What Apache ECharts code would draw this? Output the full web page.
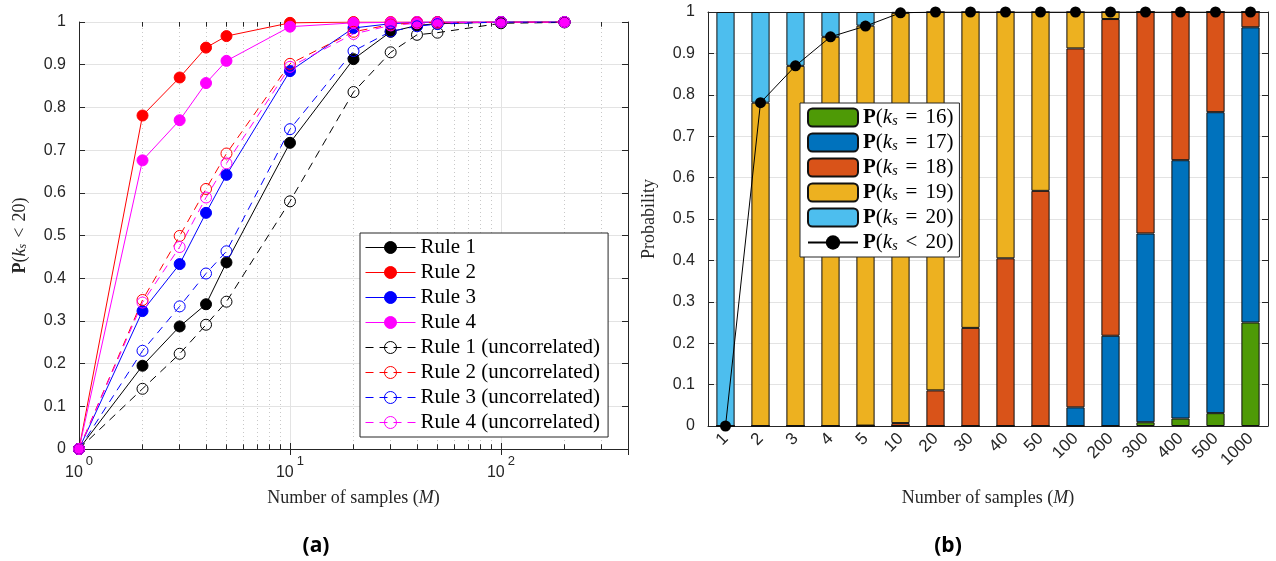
<!DOCTYPE html>
<html><head><meta charset="utf-8">
<script src="https://cdn.jsdelivr.net/npm/echarts@6/dist/echarts.min.js"></script>
<style>html,body{margin:0;padding:0;background:#fff}#c{width:1276px;height:561px}</style>
</head><body><div id="c"></div>
<script>
// ---------- Panel (a) data ----------
const samplesA = [1, 2, 3, 4, 5, 10, 20, 30, 40, 50, 100, 200];
const rule1 = [0, 0.195, 0.287, 0.339, 0.437, 0.717, 0.913, 0.977, 0.992, 0.996, 1.0, 1.0];
const rule2 = [0, 0.781, 0.870, 0.940, 0.967, 0.998, 1.0, 1.0, 1.0, 1.0, 1.0, 1.0];
const rule3 = [0, 0.323, 0.433, 0.553, 0.642, 0.885, 0.986, 0.996, 0.999, 1.0, 1.0, 1.0];
const rule4 = [0, 0.676, 0.770, 0.857, 0.909, 0.989, 0.998, 0.999, 1.0, 1.0, 1.0, 1.0];
const rule1u = [0, 0.141, 0.223, 0.291, 0.345, 0.580, 0.836, 0.929, 0.970, 0.975, 0.997, 0.999];
const rule2u = [0, 0.349, 0.499, 0.609, 0.692, 0.902, 0.977, 0.994, 0.998, 0.999, 1.0, 1.0];
const rule3u = [0, 0.230, 0.334, 0.411, 0.463, 0.749, 0.932, 0.978, 0.990, 0.995, 1.0, 1.0];
const rule4u = [0, 0.343, 0.473, 0.589, 0.669, 0.895, 0.972, 0.992, 0.997, 0.998, 1.0, 1.0];
const minorTicksA = [2, 3, 4, 5, 6, 7, 8, 9, 20, 30, 40, 50, 60, 70, 80, 90, 200, 300];

// ---------- Panel (b) data ----------
const samplesB = ['1', '2', '3', '4', '5', '10', '20', '30', '40', '50', '100', '200', '300', '400', '500', '1000'];
const pK16 = [0, 0, 0, 0, 0, 0, 0, 0, 0, 0, 0, 0, 0.009, 0.018, 0.031, 0.250];
const pK17 = [0, 0, 0, 0, 0, 0, 0, 0, 0, 0, 0.045, 0.218, 0.456, 0.624, 0.727, 0.713];
const pK18 = [0, 0, 0, 0, 0.001, 0.007, 0.086, 0.237, 0.405, 0.568, 0.867, 0.765, 0.535, 0.358, 0.242, 0.037];
const pK19 = [0, 0.781, 0.870, 0.940, 0.966, 0.991, 0.914, 0.763, 0.595, 0.432, 0.088, 0.017, 0, 0, 0, 0];
const pK20 = [1, 0.219, 0.130, 0.060, 0.033, 0.002, 0, 0, 0, 0, 0, 0, 0, 0, 0, 0];
const pLess20 = [0, 0.781, 0.870, 0.940, 0.966, 0.998, 1, 1, 1, 1, 1, 1, 1, 1, 1, 1];

const SERIF = 'Liberation Serif';
const SANS = 'Liberation Sans';
const AX = '#262626';
const GRID = '#e3e3e3';

const rulesA = [
  { name: 'Rule 1', vals: rule1, color: '#000000', hollow: false },
  { name: 'Rule 2', vals: rule2, color: '#ff0000', hollow: false },
  { name: 'Rule 3', vals: rule3, color: '#0000ff', hollow: false },
  { name: 'Rule 4', vals: rule4, color: '#ff00ff', hollow: false },
  { name: 'Rule 1 (uncorrelated)', vals: rule1u, color: '#000000', hollow: true },
  { name: 'Rule 2 (uncorrelated)', vals: rule2u, color: '#ff0000', hollow: true },
  { name: 'Rule 3 (uncorrelated)', vals: rule3u, color: '#0000ff', hollow: true },
  { name: 'Rule 4 (uncorrelated)', vals: rule4u, color: '#ff00ff', hollow: true }
];
function itemStyleOf(r) {
  return r.hollow ? { color: 'rgba(255,255,255,0)', borderColor: r.color, borderWidth: 1 }
                  : { color: r.color, borderColor: r.color, borderWidth: 1 };
}
function lineStyleOf(r) {
  return { color: r.color, width: 1, type: r.hollow ? [8, 6] : 'solid' };
}
function lineSeries(r) {
  return {
    name: r.name, type: 'line', xAxisIndex: 0, yAxisIndex: 0,
    data: samplesA.map((x, i) => [x, r.vals[i]]),
    symbol: 'circle', symbolSize: 11, showSymbol: true, showAllSymbol: true,
    lineStyle: lineStyleOf(r), itemStyle: itemStyleOf(r),
    emphasis: { disabled: true }, animation: false, z: 3
  };
}
function barSeries(name, vals, color) {
  return {
    name: name, type: 'bar', xAxisIndex: 2, yAxisIndex: 2, stack: 'p', data: vals,
    barWidth: '52%', itemStyle: { color: color, borderColor: '#111', borderWidth: 1 },
    emphasis: { disabled: true }, animation: false
  };
}

const minorMarks = [];
minorTicksA.forEach(v => {
  minorMarks.push({ xAxis: v, lineStyle: { type: [1, 3], color: '#c8c8c8', width: 1 } });
});
minorTicksA.forEach(v => {
  minorMarks.push([{ coord: [v, 0] }, { coord: [v, 0.011], lineStyle: { type: 'solid', color: AX, width: 1 } }]);
  minorMarks.push([{ coord: [v, 1] }, { coord: [v, 0.989], lineStyle: { type: 'solid', color: AX, width: 1 } }]);
});

const legendBMap = {
  'P16': '{b|P}{n|(}{i|k}{s|s}{e|=}{n|16)}',
  'P17': '{b|P}{n|(}{i|k}{s|s}{e|=}{n|17)}',
  'P18': '{b|P}{n|(}{i|k}{s|s}{e|=}{n|18)}',
  'P19': '{b|P}{n|(}{i|k}{s|s}{e|=}{n|19)}',
  'P20': '{b|P}{n|(}{i|k}{s|s}{e|=}{n|20)}',
  'Pless': '{b|P}{n|(}{i|k}{s|s}{e|<}{n|20)}'
};
const richMath = {
  b: { fontFamily: SERIF, fontWeight: 'bold', fontSize: 21, color: '#000' },
  n: { fontFamily: SERIF, fontSize: 21, color: '#000' },
  e: { fontFamily: SERIF, fontSize: 21, color: '#000', padding: [0, 8, 0, 8] },
  i: { fontFamily: SERIF, fontStyle: 'italic', fontSize: 21, color: '#000' },
  s: { fontFamily: SERIF, fontStyle: 'italic', fontSize: 14, color: '#000', verticalAlign: 'bottom', padding: [6, 0, 0, 0] }
};
const richName = {
  b: { fontFamily: SERIF, fontWeight: 'bold', fontSize: 18, color: AX },
  n: { fontFamily: SERIF, fontSize: 18, color: AX },
  e: { fontFamily: SERIF, fontSize: 18, color: AX, padding: [0, 6, 0, 6] },
  i: { fontFamily: SERIF, fontStyle: 'italic', fontSize: 18, color: AX },
  s: { fontFamily: SERIF, fontStyle: 'italic', fontSize: 12, color: AX, verticalAlign: 'bottom', padding: [6, 0, 0, 0] }
};

const option = {
  backgroundColor: '#fff',
  animation: false,
  grid: [
    { left: 79, top: 22, width: 549, height: 427 },
    { left: 708, top: 12, width: 560, height: 414 }
  ],
  xAxis: [
    { type: 'log', logBase: 10, min: 1, max: 400, gridIndex: 0, position: 'bottom',
      axisLine: { show: true, lineStyle: { color: AX, width: 1 } },
      axisTick: { show: true, inside: true, length: 6, lineStyle: { color: AX } },
      splitLine: { show: true, lineStyle: { color: GRID, width: 1 } },
      axisLabel: { margin: 6, color: AX, showMaxLabel: false,
        formatter: v => '{a|10}{p|' + Math.round(Math.log10(v)) + '}',
        rich: { a: { fontFamily: SANS, fontSize: 16, color: AX, verticalAlign: 'bottom', lineHeight: 26 },
                p: { fontFamily: SANS, fontSize: 13, color: AX, verticalAlign: 'top', lineHeight: 10, padding: [0, 0, 0, 3] } } },
      name: '{n|Number of samples (}{i|M}{n|)}', nameLocation: 'middle', nameGap: 40,
      nameTextStyle: { rich: richName }
    },
    { type: 'log', logBase: 10, min: 1, max: 400, gridIndex: 0, position: 'top',
      axisLine: { show: true, lineStyle: { color: AX, width: 1 } },
      axisTick: { show: true, inside: true, length: 6, lineStyle: { color: AX } },
      splitLine: { show: false }, axisLabel: { show: false } },
    { type: 'category', data: samplesB, gridIndex: 1, position: 'bottom',
      axisLine: { show: true, onZero: false, lineStyle: { color: AX, width: 1 } },
      axisTick: { show: false },
      splitLine: { show: false },
      axisLabel: { rotate: 45, margin: 10, fontFamily: SANS, fontSize: 17, color: AX, interval: 0 },
      name: '{n|Number of samples (}{i|M}{n|)}', nameLocation: 'middle', nameGap: 63,
      nameTextStyle: { rich: richName }
    },
    { type: 'category', data: samplesB, gridIndex: 1, position: 'top',
      axisLine: { show: true, onZero: false, lineStyle: { color: AX, width: 1 } },
      axisTick: { show: false }, splitLine: { show: false }, axisLabel: { show: false } }
  ],
  yAxis: [
    { type: 'value', min: 0, max: 1, interval: 0.1, gridIndex: 0, position: 'left',
      axisLine: { show: true, lineStyle: { color: AX, width: 1 } },
      axisTick: { show: true, inside: true, length: 6, lineStyle: { color: AX } },
      splitLine: { show: true, lineStyle: { color: GRID, width: 1 } },
      axisLabel: { margin: 13, fontFamily: SANS, fontSize: 16, color: AX },
      name: '{b|P}{n|(}{i|k}{s|s}{e|<}{n|20)}', nameLocation: 'middle', nameGap: 50,
      nameTextStyle: { rich: richName }
    },
    { type: 'value', min: 0, max: 1, interval: 0.1, gridIndex: 0, position: 'right',
      axisLine: { show: true, lineStyle: { color: AX, width: 1 } },
      axisTick: { show: true, inside: true, length: 6, lineStyle: { color: AX } },
      splitLine: { show: false }, axisLabel: { show: false } },
    { type: 'value', min: 0, max: 1, interval: 0.1, gridIndex: 1, position: 'left',
      axisLine: { show: true, lineStyle: { color: AX, width: 1 } },
      axisTick: { show: true, inside: true, length: 6, lineStyle: { color: AX } },
      splitLine: { show: true, lineStyle: { color: GRID, width: 1 } },
      axisLabel: { margin: 13, fontFamily: SANS, fontSize: 16, color: AX },
      name: 'Probability', nameLocation: 'middle', nameGap: 50,
      nameTextStyle: { fontFamily: SERIF, fontSize: 18, color: AX }
    },
    { type: 'value', min: 0, max: 1, interval: 0.1, gridIndex: 1, position: 'right',
      axisLine: { show: true, lineStyle: { color: AX, width: 1 } },
      axisTick: { show: true, inside: true, length: 6, lineStyle: { color: AX } },
      splitLine: { show: false }, axisLabel: { show: false } }
  ],
  legend: [
    { orient: 'vertical', left: 360, top: 233, itemWidth: 50, itemHeight: 15, itemGap: 4,
      padding: [4, 8, 4, 5], backgroundColor: '#fff', borderColor: AX, borderWidth: 1,
      textStyle: { fontFamily: SERIF, fontSize: 21, color: '#000', lineHeight: 21 },
      data: rulesA.map(r => ({ name: r.name, itemStyle: itemStyleOf(r), lineStyle: lineStyleOf(r) })),
      selectedMode: false },
    { orient: 'vertical', left: 800, top: 103, itemWidth: 50, itemHeight: 18, itemGap: 4,
      padding: [4, 6, 4, 7], backgroundColor: '#fff', borderColor: AX, borderWidth: 1,
      textStyle: { fontFamily: SERIF, fontSize: 21, color: '#000', lineHeight: 21, rich: richMath },
      formatter: name => legendBMap[name],
      data: ['P16', 'P17', 'P18', 'P19', 'P20', 'Pless'],
      selectedMode: false }
  ],
  graphic: [
    { type: 'text', x: 316, y: 546, style: { text: '(a)', font: 'bold 21px "Open Sans"', fill: '#000', textAlign: 'center', textVerticalAlign: 'middle' } },
    { type: 'text', x: 948, y: 546, style: { text: '(b)', font: 'bold 21px "Open Sans"', fill: '#000', textAlign: 'center', textVerticalAlign: 'middle' } }
  ],
  series: [
    { name: '_minor', type: 'line', xAxisIndex: 0, yAxisIndex: 0, data: [[1, 0]], symbol: 'none',
      lineStyle: { opacity: 0 }, silent: true, z: 1,
      markLine: { z: 1, silent: true, symbol: 'none', label: { show: false }, animation: false, data: minorMarks } }
  ].concat(rulesA.map(lineSeries)).concat([
    barSeries('P16', pK16, '#4e9a06'),
    barSeries('P17', pK17, '#0072bd'),
    barSeries('P18', pK18, '#d95319'),
    barSeries('P19', pK19, '#edb120'),
    barSeries('P20', pK20, '#4dbeee'),
    { name: 'Pless', type: 'line', xAxisIndex: 2, yAxisIndex: 2, data: pLess20,
      symbol: 'circle', symbolSize: 11, lineStyle: { color: '#000', width: 1 },
      itemStyle: { color: '#000' }, emphasis: { disabled: true }, animation: false, z: 4 }
  ])
};
const chart = echarts.init(document.getElementById('c'), null, { renderer: 'canvas' });
chart.setOption(option);
</script></body></html>
